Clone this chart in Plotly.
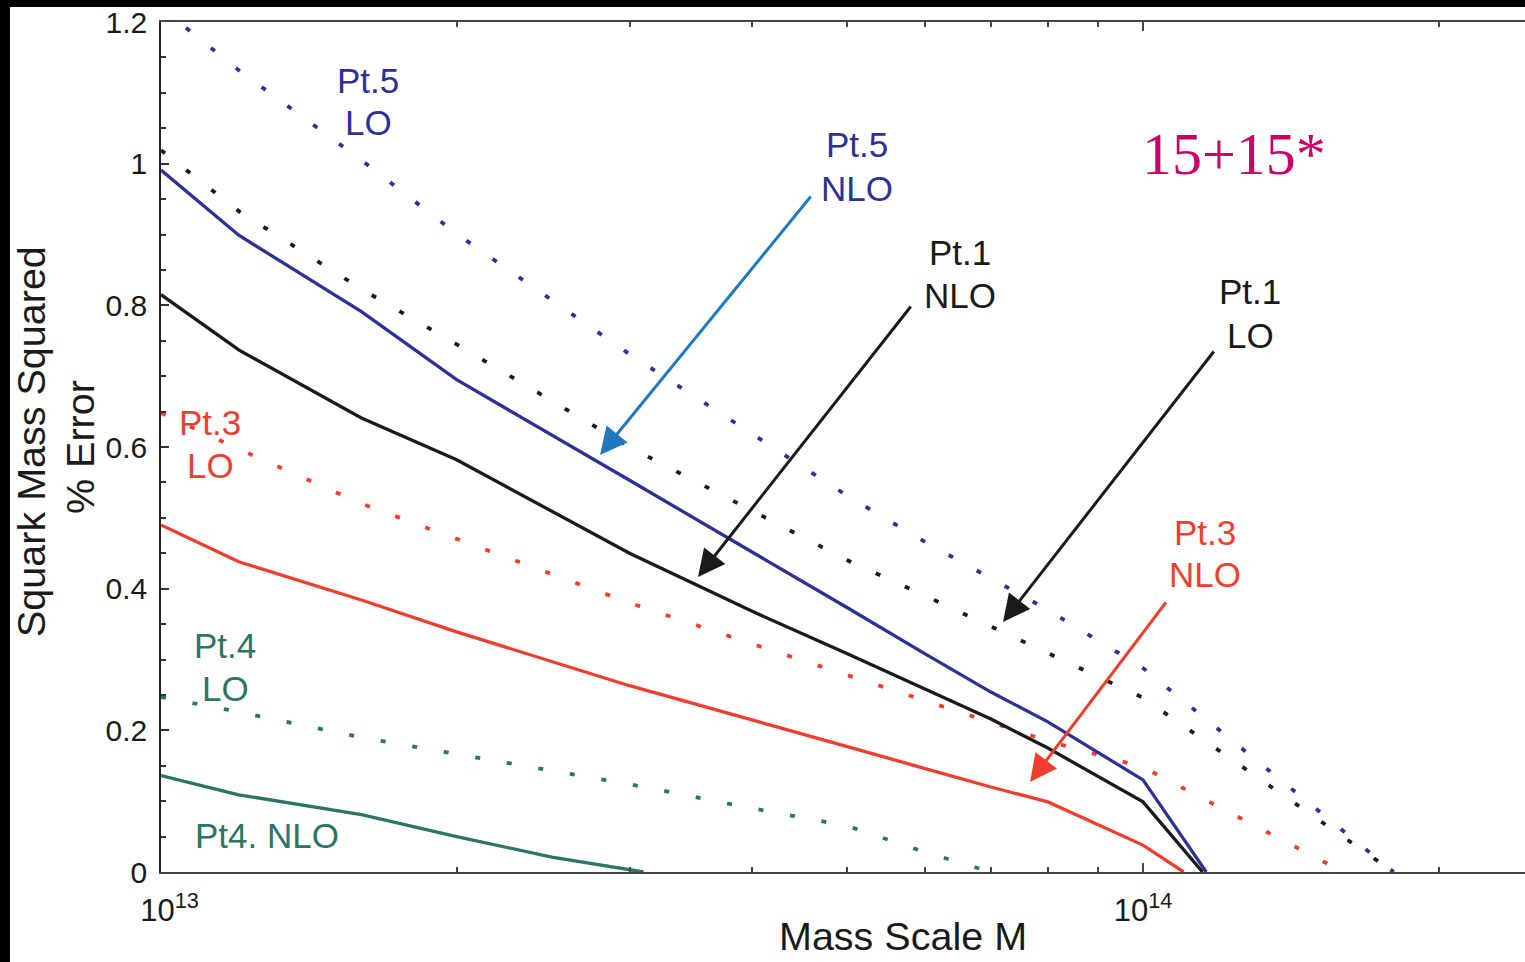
import plotly.graph_objects as go

# ---------------- data (M in units of 1e13 GeV, error in %) ----------------
pt5_lo_M = [1.0, 1.2, 1.6, 2.0, 3.0, 4.0, 5.0, 6.0, 7.0, 8.0, 10.0, 18.0]
pt5_lo = [1.22, 1.132, 1.005, 0.901, 0.731, 0.618, 0.531, 0.466, 0.414, 0.370, 0.288, 0.0]

pt5_nlo_M = [1.0, 1.2, 1.6, 2.0, 3.0, 4.0, 5.0, 6.0, 7.0, 8.0, 10.0, 11.6]
pt5_nlo = [0.991, 0.899, 0.791, 0.695, 0.553, 0.452, 0.373, 0.308, 0.254, 0.212, 0.130, 0.0]

pt1_lo_M = [1.0, 1.2, 1.6, 2.0, 3.0, 4.0, 5.0, 6.0, 7.0, 8.0, 10.0, 18.0]
pt1_lo = [1.019, 0.933, 0.823, 0.745, 0.600, 0.510, 0.440, 0.390, 0.346, 0.309, 0.246, 0.0]

pt1_nlo_M = [1.0, 1.2, 1.6, 2.0, 3.0, 4.0, 5.0, 6.0, 7.0, 8.0, 10.0, 11.5]
pt1_nlo = [0.815, 0.737, 0.641, 0.582, 0.450, 0.368, 0.308, 0.258, 0.216, 0.175, 0.099, 0.0]

pt3_lo_M = [1.0, 1.2, 1.6, 2.0, 3.0, 4.0, 5.0, 6.0, 7.0, 8.0, 10.0, 16.0]
pt3_lo = [0.648, 0.597, 0.520, 0.470, 0.380, 0.322, 0.278, 0.241, 0.211, 0.185, 0.148, 0.0]

pt3_nlo_M = [1.0, 1.2, 1.6, 2.0, 3.0, 4.0, 5.0, 6.0, 7.0, 8.0, 10.0, 11.0]
pt3_nlo = [0.490, 0.438, 0.384, 0.339, 0.263, 0.215, 0.177, 0.146, 0.120, 0.099, 0.038, 0.0]

pt4_lo_M = [1.0, 1.2, 1.6, 2.0, 3.0, 4.0, 5.0, 6.0, 7.0]
pt4_lo = [0.247, 0.226, 0.190, 0.167, 0.124, 0.090, 0.065, 0.028, 0.0]

pt4_nlo_M = [1.0, 1.2, 1.6, 2.0, 2.5, 3.1]
pt4_nlo = [0.136, 0.109, 0.081, 0.050, 0.021, 0.0]

M_UNIT = 1e13

x_tickvals = [1e13, 1e14]
x_ticktext = ["\u00a0\u00a010<sup>13</sup>", "10<sup>14</sup>"]
x_minor = [2e13, 3e13, 4e13, 5e13, 6e13, 7e13, 8e13, 9e13, 2e14]
y_tickvals = [0, 0.2, 0.4, 0.6, 0.8, 1.0, 1.2]
y_ticktext = ["0", "0.2", "0.4", "0.6", "0.8", "1", "1.2"]

BLUE = "#2E3192"
BLACK = "#1a1a1a"
RED = "#EF3E2E"
GREEN = "#2A7563"
LBLUE = "#2178BE"
MAGENTA = "#C8006A"
FONT = "Liberation Sans, Arial, sans-serif"

# ---------------- layout geometry ----------------
W, H = 1525, 962
PL, PR, PT, PB = 161, 1525, 22, 872


def fx(p):
    return (p - PL) / (PR - PL)


def fy(p):
    return (PB - p) / (PB - PT)


DOT = "5px,27px"

fig = go.Figure()
series = [
    (pt5_lo_M, pt5_lo, BLUE, DOT),
    (pt1_lo_M, pt1_lo, BLACK, DOT),
    (pt3_lo_M, pt3_lo, RED, DOT),
    (pt4_lo_M, pt4_lo, GREEN, DOT),
    (pt5_nlo_M, pt5_nlo, BLUE, "solid"),
    (pt1_nlo_M, pt1_nlo, BLACK, "solid"),
    (pt3_nlo_M, pt3_nlo, RED, "solid"),
    (pt4_nlo_M, pt4_nlo, GREEN, "solid"),
]
for m, v, c, d in series:
    fig.add_trace(go.Scatter(
        x=[mm * M_UNIT for mm in m], y=v, mode="lines",
        line=dict(color=c, width=3.8 if d == DOT else 3.3, dash=d),
        showlegend=False, hoverinfo="skip"))

annotations = []


def label(text, x, y, color, size=35, family=FONT):
    annotations.append(dict(
        text=text, x=fx(x), y=fy(y), xref="paper", yref="paper",
        showarrow=False, xanchor="center", yanchor="middle", align="center",
        font=dict(family=family, size=size, color=color)))


label("Pt.5", 368, 80, BLUE)
label("LO", 368, 122, BLUE)
label("Pt.5", 857, 145, BLUE)
label("NLO", 857, 188, BLUE)
label("Pt.1", 960, 252, BLACK)
label("NLO", 960, 295, BLACK)
label("Pt.1", 1250, 291, BLACK)
label("LO", 1250, 335, BLACK)
label("Pt.3", 210, 422, RED)
label("LO", 210, 465, RED)
label("Pt.3", 1205, 532, RED)
label("NLO", 1205, 574, RED)
label("Pt.4", 225, 645, GREEN)
label("LO", 225, 688, GREEN)
label("Pt4. NLO", 267, 835, GREEN)
label("15+15*", 1234, 154, MAGENTA, size=60, family="Liberation Serif, Times New Roman, serif")


def arrow(head, tail, color):
    annotations.append(dict(
        x=fx(head[0]), y=fy(head[1]), xref="paper", yref="paper",
        ax=tail[0] - head[0], ay=tail[1] - head[1], axref="pixel", ayref="pixel",
        showarrow=True, arrowhead=2, arrowsize=1.8, arrowwidth=3,
        arrowcolor=color, text=""))


arrow((600, 455), (812, 195), LBLUE)
arrow((698, 577), (912, 305), BLACK)
arrow((1003, 622), (1215, 350), BLACK)
arrow((1030, 782), (1167, 601), RED)

# axis titles
annotations.append(dict(text="Mass Scale M", x=fx(903), y=fy(936), xref="paper", yref="paper",
                        showarrow=False, xanchor="center", yanchor="middle",
                        font=dict(family=FONT, size=39.5, color=BLACK)))
annotations.append(dict(text="Squark Mass Squared", x=fx(31), y=fy(442), xref="paper", yref="paper",
                        showarrow=False, xanchor="center", yanchor="middle", textangle=-90,
                        font=dict(family=FONT, size=39.5, color=BLACK)))
annotations.append(dict(text="% Error", x=fx(80), y=fy(447), xref="paper", yref="paper",
                        showarrow=False, xanchor="center", yanchor="middle", textangle=-90,
                        font=dict(family=FONT, size=39.5, color=BLACK)))

shapes = [
    dict(type="rect", xref="paper", yref="paper", x0=fx(0), x1=fx(W), y0=fy(7), y1=fy(0),
         fillcolor="black", line=dict(width=0), layer="above"),
    dict(type="rect", xref="paper", yref="paper", x0=fx(0), x1=fx(10), y0=fy(H), y1=fy(0),
         fillcolor="black", line=dict(width=0), layer="above"),
]

fig.update_layout(
    width=W, height=H,
    margin=dict(l=PL, r=W - PR, t=PT, b=H - PB, pad=0),
    paper_bgcolor="white", plot_bgcolor="white",
    annotations=annotations, shapes=shapes,
    xaxis=dict(type="log", range=[13, 13 + (PR - PL) / 982.0],
               tickmode="array", tickvals=x_tickvals, ticktext=x_ticktext,
               ticks="inside", ticklen=9, tickwidth=1.5, tickcolor="#444",
               showline=True, linecolor="#444", linewidth=1.5, mirror="allticks",
               showgrid=False, zeroline=False, ticklabelstandoff=10,
               tickfont=dict(family=FONT, size=31, color=BLACK),
               minor=dict(tickvals=x_minor, ticks="inside", ticklen=5, tickwidth=1.5,
                          tickcolor="#444", showgrid=False)),
    yaxis=dict(range=[0, 1.2], tickmode="array", tickvals=y_tickvals, ticktext=y_ticktext,
               ticks="inside", ticklen=8, tickwidth=1.5, tickcolor="#333",
               showline=True, linecolor="#222", linewidth=1.5, mirror=False,
               showgrid=False, zeroline=False, ticklabelstandoff=6,
               tickfont=dict(family=FONT, size=30, color=BLACK),
               minor=dict(dtick=0.05, ticks="inside", ticklen=5, tickwidth=1.5,
                          tickcolor="#333", showgrid=False)),
)

fig.write_html("out.html")
